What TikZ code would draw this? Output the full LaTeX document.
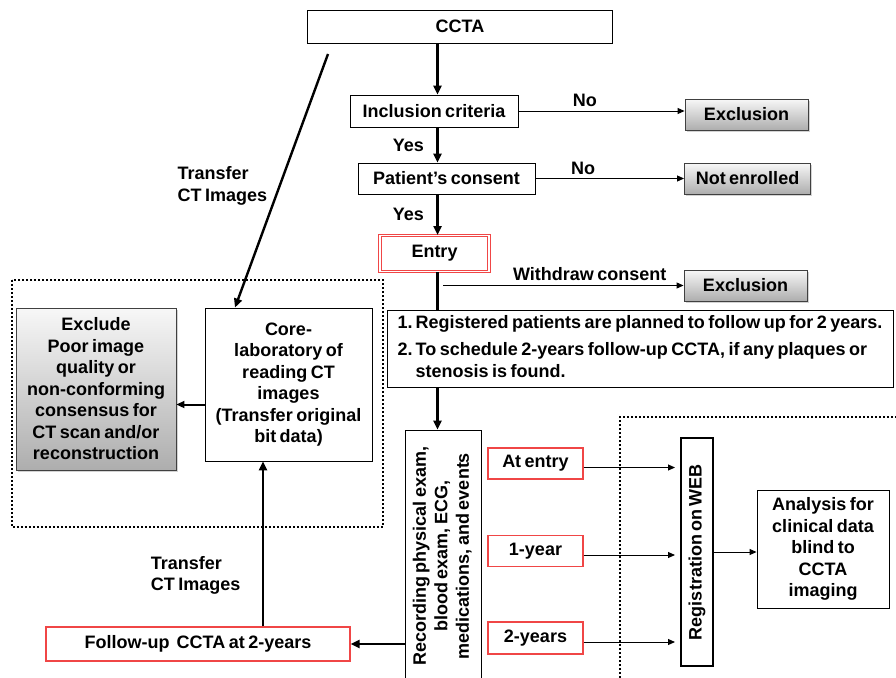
\documentclass[tikz,border=0pt]{standalone}
\usepackage{graphicx}
\usepackage{fontspec}
\setmainfont{Liberation Sans}[WordSpace=0.7]
\usetikzlibrary{arrows.meta,shadows}
\definecolor{boxred}{RGB}{240,70,70}

\begin{document}
\begin{tikzpicture}[x=1pt,y=-1pt,
					font=\fontsize{18}{21.5}\selectfont\bfseries,
					main node/.style={rectangle,draw,line width=0.9pt,align=center,inner sep=1pt},
					red node/.style={main node,draw=boxred,line width=1.3pt},
					grey node/.style={main node,draw=black!75,top color=black!3,bottom color=black!32,
						drop shadow={shadow xshift=1.5pt,shadow yshift=-1.5pt,opacity=0.35}},
					big arrow/.style={line width=2.4pt,-{Triangle[length=9pt,width=8pt]}},
					mid arrow/.style={line width=2pt,-{Triangle[length=8pt,width=7pt]}},
					small arrow/.style={line width=1pt,-{Triangle[length=7pt,width=6pt]}},
					zone/.style={line width=1.8pt,dash pattern=on 1.8pt off 2.2pt}]

  \useasboundingbox (0,0) rectangle (896,677);

  % dotted regions
  \draw[zone] (12,280) rectangle (383,527);
  \draw[zone] (620,690) -- (620,417) -- (900,417);

  % columns of the vertical lines
  \coordinate (spine) at (437.5,0);
  \coordinate (wd) at (443,0);
  \coordinate (back) at (263,0);
  \coordinate (tr) at (328,54);

  % enrolment
  \node[main node,minimum width=305pt,minimum height=33pt] (CCTA) at (460,26.5) {CCTA};
  \node[main node,minimum width=168pt,minimum height=32pt] (Incl) at (434,111) {Inclusion criteria};
  \node[main node,minimum width=177pt,minimum height=31pt] (Cons) at (446.5,178.5) {Patient’s consent};
  \node[red node,line width=1pt,double=white,double distance=1.5pt,minimum width=109pt,minimum height=36pt] (Entry) at (434.5,253.5) {Entry};
  \node[grey node,minimum width=123pt,minimum height=31pt] (ExA) at (746.5,114.5) {Exclusion};
  \node[grey node,minimum width=126pt,minimum height=31pt] (NotE) at (747.5,178.5) {Not enrolled};
  \node[grey node,minimum width=123pt,minimum height=31pt] (ExB) at (745.5,285.5) {Exclusion};
  \node[main node,minimum width=506pt,minimum height=77pt] (Note) at (640,348.5)
    {\begin{tabular}{@{}l@{\,}l@{}}
      1. & Registered patients are planned to follow up for 2 years.\\[6pt]
      2. & To schedule 2-years follow-up CCTA, if any plaques or\\
         & stenosis is found.
    \end{tabular}};

  % follow up
  \node[main node,minimum width=76pt,minimum height=252pt] (Rec) at (443,556)
    {\rotatebox{90}{\begin{tabular}{@{}c@{}}Recording physical exam,\\ blood exam, ECG,\\ medications, and events\end{tabular}}};
  \node[red node,minimum width=95pt,minimum height=31pt] (AtE) at (535.5,463.5) {At entry};
  \node[red node,minimum width=95pt,minimum height=31pt] (Y1) at (535.5,551) {1-year};
  \node[red node,minimum width=95pt,minimum height=32pt] (Y2) at (535.5,638) {2-years};
  \node[main node,line width=2pt,minimum width=32pt,minimum height=228pt] (Web) at (697,552)
    {\rotatebox{90}{Registration on WEB}};
  \node[main node,minimum width=132pt,minimum height=118pt] (Ana) at (823,549)
    {Analysis for\\clinical data\\blind to\\CCTA\\imaging};
  \node[red node,minimum width=304pt,minimum height=34pt] (Fol) at (198,644) {Follow-up\ \ CCTA at 2-years};

  % core laboratory
  \node[main node,minimum width=167pt,minimum height=153pt] (Core) at (288.5,384.5)
    {Core-\\laboratory of\\reading CT\\images\\(Transfer original\\bit data)};
  \node[grey node,minimum width=160pt,minimum height=162pt] (Excl) at (96,389)
    {Exclude\\Poor image\\quality or\\non-conforming\\consensus for\\CT scan and/or\\reconstruction};

  \path[big arrow]
    (CCTA.south -| spine) edge (Incl.north -| spine)
    (Incl.south -| spine) edge node[left=9pt] {Yes} (Cons.north -| spine)
    (Cons.south -| spine) edge node[left=9pt] {Yes} (Entry.north -| spine);
  \draw[line width=2.4pt] (Entry.south -| spine) -- (Note.north -| spine);
  \draw[big arrow] (Note.south -| spine) -- (Rec.north -| spine);

  \path[small arrow]
    (Incl.east) edge node[above,pos=0.4] {No} (Incl.east -| ExA.west)
    (Cons.east) edge node[above,pos=0.32] {No} (Cons.east -| NotE.west)
    (wd |- ExB.west) edge node[above=1pt,pos=0.61] {Withdraw consent} (ExB.west)
    ([yshift=-4pt]AtE.east) edge[shorten >=5pt] ([yshift=-4pt]AtE.east -| Web.west)
    ([yshift=-4pt]Y1.east) edge[shorten >=5pt] ([yshift=-4pt]Y1.east -| Web.west)
    ([yshift=-4pt]Y2.east) edge[shorten >=5pt] ([yshift=-4pt]Y2.east -| Web.west)
    (Web.east) edge (Web.east -| Ana.west);

  \draw[big arrow] (tr) -- node[left=8pt,pos=0.52,align=left] {Transfer\\CT Images} ([xshift=-53.5pt]Core.north);
  \draw[mid arrow] ([yshift=-20pt]Core.west) -- ([yshift=-20pt]Core.west -| Excl.east);
  \draw[big arrow] (back |- Fol.north) -- node[left=18pt,pos=0.31,align=left] {Transfer\\CT Images} (back |- Core.south);
  \draw[big arrow] (Fol.east -| Rec.west) -- (Fol.east);
\end{tikzpicture}
\end{document}
